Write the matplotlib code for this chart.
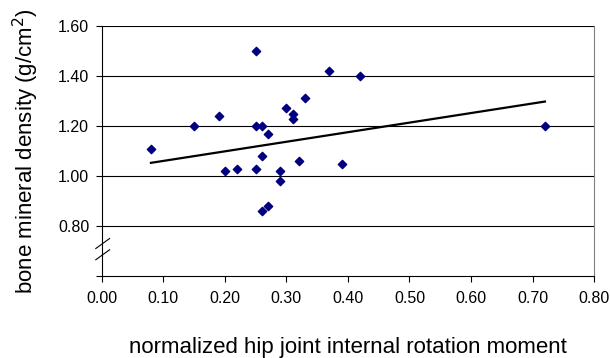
import numpy as np
import matplotlib.pyplot as plt

plt.rcParams['font.family'] = ['Liberation Sans', 'DejaVu Sans']

# hip rotation moment vs bone mineral density
moment = [0.08, 0.15, 0.19, 0.20, 0.22, 0.25, 0.25, 0.26, 0.27, 0.25, 0.26, 0.26,
          0.27, 0.29, 0.29, 0.30, 0.31, 0.31, 0.32, 0.33, 0.37, 0.39, 0.42, 0.72]
bmd = [1.11, 1.20, 1.24, 1.02, 1.03, 1.50, 1.20, 1.20, 1.17, 1.03, 1.08, 0.86,
       0.88, 1.02, 0.98, 1.27, 1.25, 1.23, 1.06, 1.31, 1.42, 1.05, 1.40, 1.20]

# trend line as shown in the figure (slope, intercept)
trend = [0.383, 1.022]

xticks = [0.0, 0.1, 0.2, 0.3, 0.4, 0.5, 0.6, 0.7, 0.8]
yticks = [0.8, 1.0, 1.2, 1.4, 1.6]

fig = plt.figure(figsize=(6.1, 3.58), dpi=100)
ax = fig.add_axes([0.1667, 0.229, 0.8073, 0.6984])

for y in yticks:
    ax.axhline(y, color='black', lw=0.8, zorder=1)

ax.scatter(moment, bmd, marker='D', s=18, color='#000080', zorder=3)

x = np.array(moment)
xl = np.array([x.min(), x.max()])
ax.plot(xl, trend[0] * xl + trend[1], color='black', lw=1.6, zorder=2)

ax.set_xlim(0, 0.8)
ax.set_ylim(0.6, 1.6)
ax.set_xticks(xticks)
ax.set_xticklabels(['%.2f' % v for v in xticks], fontsize=11.5)
ax.set_yticks([0.6] + yticks)
ax.set_yticklabels([''] + ['%.2f' % v for v in yticks], fontsize=11.5)
ax.tick_params(direction='out', length=4, width=0.8, color='black')
ax.tick_params(axis='x', pad=7)
ax.tick_params(axis='y', pad=5)

for s in ['left', 'bottom']:
    ax.spines[s].set_color('black')
ax.spines['top'].set_visible(False)
ax.spines['right'].set_color('#808080')

# axis break marks
for yb in [0.085, 0.13]:
    ax.plot([-0.012, 0.016], [yb - 0.02, yb + 0.02], transform=ax.transAxes,
            color='black', lw=0.8, clip_on=False)

ax.set_ylabel('bone mineral density (g/cm$^2$)', fontsize=16, labelpad=12)
ax.set_xlabel('normalized hip joint internal rotation moment', fontsize=16, labelpad=22)

fig.savefig('out.png', dpi=100)
